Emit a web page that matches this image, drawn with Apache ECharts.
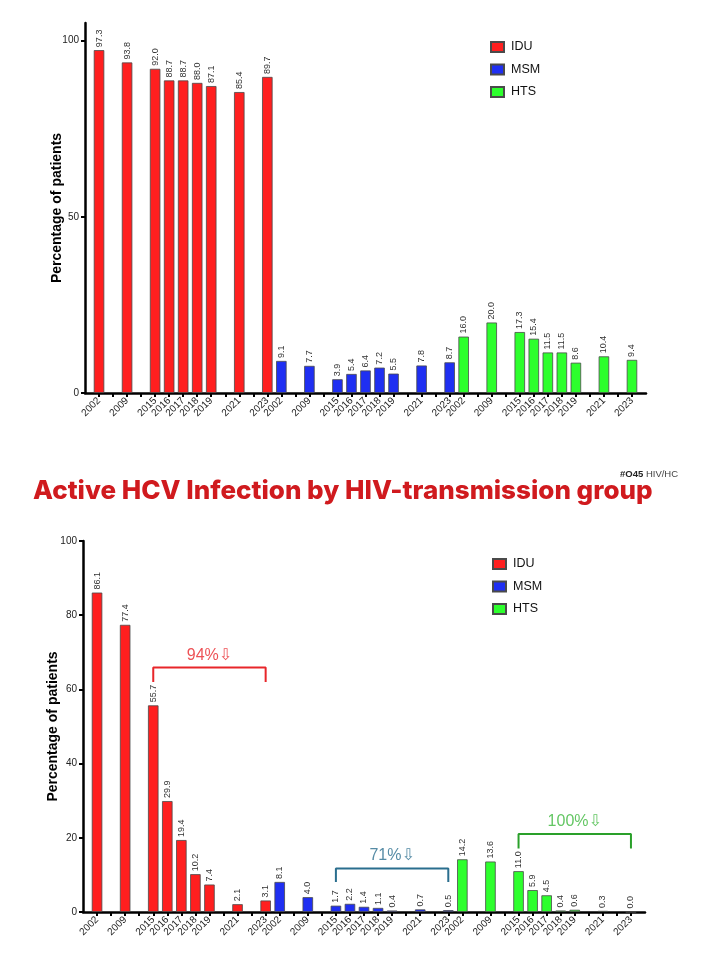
<!DOCTYPE html>
<html>
<head>
<meta charset="utf-8">
<style>
  html, body { margin: 0; padding: 0; background: #fff; }
  #chart { width: 705px; height: 966px; }
</style>
<script src="https://cdn.jsdelivr.net/npm/echarts@6/dist/echarts.min.js"></script>
</head>
<body>
<div id="chart"></div>
<script>
// ---- data ----
const groups = ['IDU', 'MSM', 'HTS'];
const years = ['2002', '2009', '2015', '2016', '2017', '2018', '2019', '2021', '2023'];
// slot of each year within a 13-slot group (gaps for missing years)
const yearSlots = [0, 2, 4, 5, 6, 7, 8, 10, 12];

const topIDU = [97.3, 93.8, 92.0, 88.7, 88.7, 88.0, 87.1, 85.4, 89.7];
const topMSM = [9.1, 7.7, 3.9, 5.4, 6.4, 7.2, 5.5, 7.8, 8.7];
const topHTS = [16.0, 20.0, 17.3, 15.4, 11.5, 11.5, 8.6, 10.4, 9.4];

const botIDU = [86.1, 77.4, 55.7, 29.9, 19.4, 10.2, 7.4, 2.1, 3.1];
const botMSM = [8.1, 4.0, 1.7, 2.2, 1.4, 1.1, 0.4, 0.7, 0.5];
const botHTS = [14.2, 13.6, 11.0, 5.9, 4.5, 0.4, 0.6, 0.3, 0.0];

const yTicksTop = [0, 50, 100];
const titleText = 'Active HCV Infection by HIV-transmission group';

// annotation brackets (bottom chart)
const bracketGroups = [0, 1, 2];
const bracketLow = [62.0, 8.1, 17.1];
const bracketHigh = [65.9, 11.7, 21.0];
const bracketText = ['94%\u21E9', '71%\u21E9', '100%\u21E9'];
const bracketTextY = [69.2, 15.3, 24.3];
const bracketColors = ['#e8262a', '#2a6e8e', '#3cb83c'];
const bracketLineColors = ['#e8262a', '#2a6e8e', '#2aa02a'];

// ---- build categories ----
const SLOTS = 13;
const categories = ['pad-start'];
for (let g = 0; g < groups.length; g++) {
  for (let s = 0; s < SLOTS; s++) {
    const yi = yearSlots.indexOf(s);
    categories.push(yi >= 0 ? groups[g] + '-' + years[yi] : 'gap-' + g + '-' + s);
  }
}
categories.push('pad-end');
const N = categories.length;

function slotIndex(g, yi) { return 1 + g * SLOTS + yearSlots[yi]; }
function buildSeriesData(g, vals) {
  const arr = new Array(N).fill(null);
  vals.forEach((v, i) => { arr[slotIndex(g, i)] = v; });
  return arr;
}

const colors = ['#ff1f1f', '#1f2ff2', '#2dff2d'];
const FONT = 'Liberation Sans, Arial, sans-serif';

function xAxisFor(gridIndex) {
  return {
    type: 'category', gridIndex, data: categories, boundaryGap: false,
    axisLine: { lineStyle: { color: '#000', width: 2.5 } },
    axisTick: {
      length: 4, lineStyle: { color: '#000', width: 2 },
      interval: (i) => i > 0 && i < N - 1
    },
    axisLabel: {
      interval: 0, rotate: 45, fontSize: 10, color: '#222', fontFamily: FONT, margin: 6,
      formatter: (v) => /^(IDU|MSM|HTS)-/.test(v) ? v.split('-')[1] : ''
    },
    splitLine: { show: false }
  };
}

function yAxisFor(gridIndex, max, interval, customTicks, nameGap) {
  const ax = {
    type: 'value', gridIndex, min: 0, max, interval,
    name: 'Percentage of patients', nameLocation: 'middle', nameGap, nameMoveOverlap: false,
    nameTextStyle: { fontSize: 14, fontWeight: 'bold', color: '#000', fontFamily: FONT },
    axisLine: { show: true, lineStyle: { color: '#000', width: 2.5 } },
    axisTick: { show: true, length: 4, lineStyle: { color: '#000', width: 2 } },
    axisLabel: { fontSize: 10, color: '#222', fontFamily: FONT, margin: 6 },
    splitLine: { show: false }
  };
  if (customTicks) {
    ax.axisTick.customValues = customTicks;
    ax.axisLabel.customValues = customTicks;
  }
  return ax;
}

function barSeries(name, g, vals, axisIdx) {
  return {
    name, type: 'bar', xAxisIndex: axisIdx, yAxisIndex: axisIdx,
    data: buildSeriesData(g, vals),
    barWidth: 10.5, barGap: '-100%',
    itemStyle: { color: colors[g], borderColor: '#4a4a4a', borderWidth: 0.8 },
    label: {
      show: true, position: 'top', rotate: 90, align: 'left', verticalAlign: 'middle',
      distance: 3, fontSize: 9, color: '#333', fontFamily: FONT,
      formatter: (p) => (p.value == null ? '' : Number(p.value).toFixed(1))
    },
    emphasis: { disabled: true }
  };
}

const series = [
  barSeries('IDU', 0, topIDU, 0),
  barSeries('MSM', 1, topMSM, 0),
  barSeries('HTS', 2, topHTS, 0),
  barSeries('IDU', 0, botIDU, 1),
  barSeries('MSM', 1, botMSM, 1),
  barSeries('HTS', 2, botHTS, 1)
];

bracketGroups.forEach((g, k) => {
  const x0 = slotIndex(g, 2), x1 = slotIndex(g, 8);
  series.push({
    name: 'bracket' + k, type: 'line', xAxisIndex: 1, yAxisIndex: 1,
    data: [[x0, bracketLow[k]], [x0, bracketHigh[k]], [x1, bracketHigh[k]], [x1, bracketLow[k]]],
    symbol: 'none', lineStyle: { color: bracketLineColors[k], width: 2 },
    silent: true, z: 5
  });
  series.push({
    name: 'bracketText' + k, type: 'scatter', xAxisIndex: 1, yAxisIndex: 1,
    data: [[(x0 + x1) / 2, bracketTextY[k]]], symbolSize: 0,
    label: {
      show: true, position: 'inside', formatter: bracketText[k],
      fontSize: 16, color: bracketColors[k], fontFamily: 'Liberation Sans, DejaVu Sans, sans-serif'
    },
    silent: true, z: 6
  });
});

const legendBase = {
  data: groups, orient: 'vertical', itemWidth: 13, itemHeight: 10, itemGap: 8.5,
  icon: 'rect', selectedMode: false, padding: 0,
  textStyle: { fontSize: 12.5, color: '#111', fontFamily: FONT, lineHeight: 14, padding: [0, 0, 0, 2] }
};

const chart = echarts.init(document.getElementById('chart'), null, { renderer: 'canvas' });
chart.setOption({
  animation: false,
  backgroundColor: '#fff',
  title: [{
    text: titleText, left: 33, top: 478, padding: 0,
    textStyle: { fontSize: 26, fontWeight: 800, color: '#d01a1e', fontFamily: 'Inter, Lato, sans-serif' }
  }],
  graphic: [{
    type: 'text', left: 620, top: 469,
    style: {
      text: '{b|#O45} HIV/HC',
      rich: { b: { fontWeight: 'bold', fontSize: 9.5, fill: '#222', fontFamily: FONT } },
      fontSize: 9.5, fill: '#444', fontFamily: FONT
    }
  }],
  legend: [
    Object.assign({}, legendBase, { left: 490, top: 40 }),
    Object.assign({}, legendBase, { left: 492, top: 557 })
  ],
  grid: [
    { left: 85, top: 23, width: 561, height: 370 },
    { left: 83, top: 541, width: 562, height: 371 }
  ],
  xAxis: [xAxisFor(0), xAxisFor(1)],
  yAxis: [yAxisFor(0, 105, 50, yTicksTop, 21), yAxisFor(1, 100, 20, null, 23)],
  series
});
</script>
</body>
</html>
